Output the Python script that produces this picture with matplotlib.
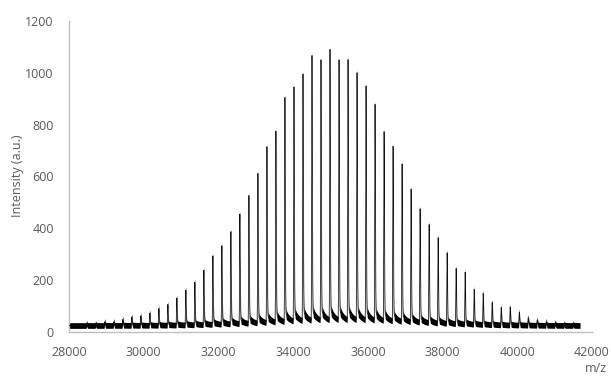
import numpy as np
import matplotlib
matplotlib.use("Agg")
import matplotlib.pyplot as plt

# peak centres (m/z) and apex heights (a.u.)
peak_mz = [28473, 28714, 28955, 29197, 29438, 29679, 29920, 30161, 30403, 30644,
           30885, 31126, 31367, 31609, 31850, 32091, 32332, 32573, 32815, 33056,
           33297, 33538, 33779, 34021, 34262, 34503, 34744, 34985, 35227, 35468,
           35709, 35950, 36191, 36433, 36674, 36915, 37156, 37397, 37639, 37880,
           38121, 38362, 38603, 38845, 39086, 39327, 39568, 39809, 40051, 40292,
           40533, 40774, 41015, 41257, 41498]
peak_int = [46, 44, 53, 53, 62, 72, 76, 87, 104, 120,
            145, 175, 206, 252, 307, 346, 400, 468, 539, 624,
            727, 786, 916, 955, 1004, 1075, 1057, 1097, 1056, 1057,
            1006, 955, 884, 778, 723, 655, 558, 483, 423, 373,
            315, 255, 242, 175, 161, 126, 107, 109, 89, 68,
            59, 53, 49, 44, 42]
mz_start, mz_end = 28000, 41680
base_level = 25

xticks = [28000, 30000, 32000, 34000, 36000, 38000, 40000, 42000]
yticks = [0, 200, 400, 600, 800, 1000, 1200]

# build trace: sharp spike + right-hand tails for each peak
mz = np.arange(mz_start, mz_end, 1.0)
spike = np.zeros_like(mz)
tail_s = np.zeros_like(mz)
tail_l = np.zeros_like(mz)
for c, h in zip(peak_mz, peak_int):
    amp = max(h - 38 - 0.015 * h, 6)
    d = mz - c
    sig = np.where(d < 0, 7.0, 10.0)
    spike += amp * np.exp(-0.5 * (d / sig) ** 2)
    pos = np.clip(d, 0, None)
    onset = 1 - np.exp(-pos / 6.0)
    tail_s += np.where(d > 0, 0.022 * amp * np.exp(-pos / 60.0) * onset, 0)
    tail_l += np.where(d > 0, 0.025 * amp * np.exp(-pos / 300.0) * onset, 0)

signal = base_level + spike + tail_s + tail_l
half = 11 + 0.7 * tail_s

fig = plt.figure(figsize=(6.11, 3.78), dpi=100)
ax = fig.add_axes([69 / 611, 1 - 332 / 378, 523 / 611, 311 / 378])

ax.fill_between(mz, signal - half, signal + half, color='black', lw=0, zorder=2)
ax.plot(mz, signal, color='#111111', lw=0.55, zorder=3)

ax.set_xlim(28000, 42000)
ax.set_ylim(0, 1200)
ax.set_xticks(xticks)
ax.set_yticks(yticks)
ax.set_xticklabels([str(t) for t in xticks])
ax.set_yticklabels([str(t) for t in yticks])

grey = '#595959'
for s in ['top', 'right']:
    ax.spines[s].set_visible(False)
for s in ['left', 'bottom']:
    ax.spines[s].set_color('#bfbfbf')
    ax.spines[s].set_linewidth(1.0)
ax.tick_params(length=0, labelsize=9, labelcolor=grey)
ax.tick_params(axis='y', pad=11)
ax.tick_params(axis='x', pad=10)
for lab in ax.get_xticklabels() + ax.get_yticklabels():
    lab.set_family('Open Sans')

fig.text(18 / 611, 1 - 176 / 378, 'Intensity (a.u.)', rotation=90, ha='center', va='center',
         fontsize=9, color=grey, family='Open Sans')
fig.text(596 / 611, 1 - 369 / 378, 'm/z', ha='center', va='center',
         fontsize=9, color=grey, family='Open Sans')

fig.savefig('out.png', dpi=100)
